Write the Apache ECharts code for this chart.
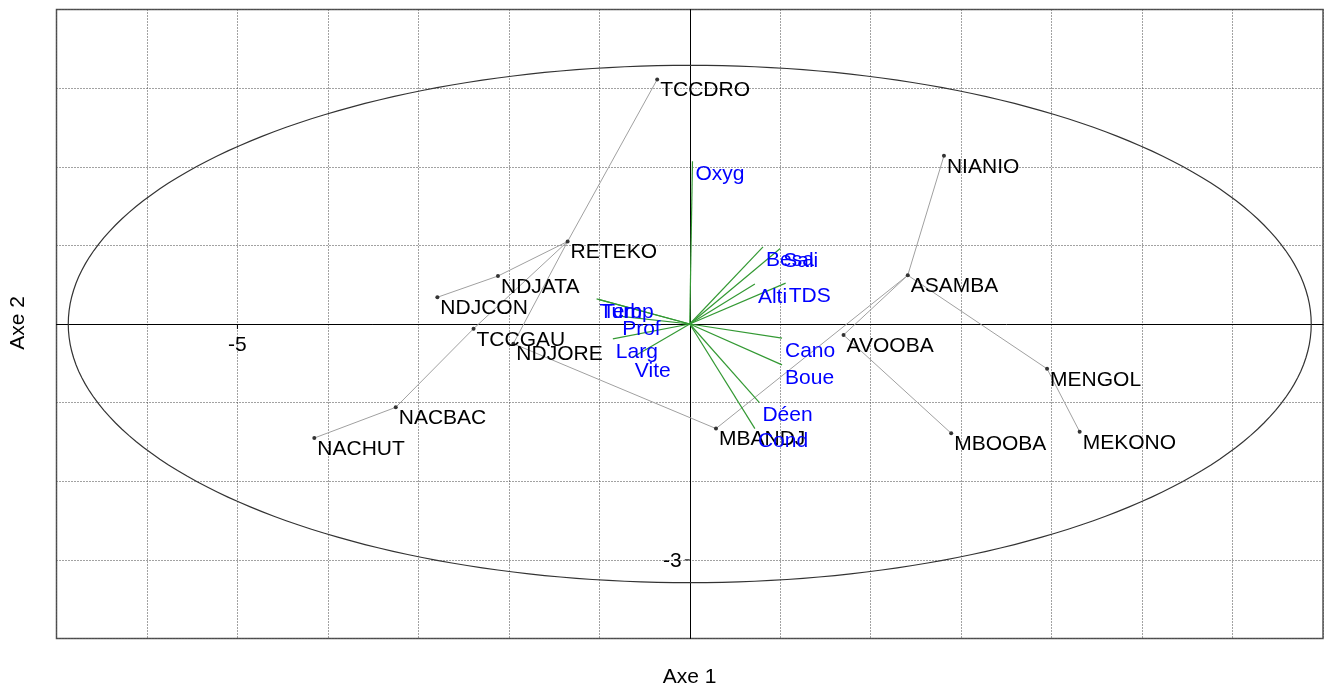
<!DOCTYPE html>
<html>
<head>
<meta charset="utf-8">
<script src="https://cdn.jsdelivr.net/npm/echarts@6.0.0/dist/echarts.min.js"></script>
<style>
  html, body { margin: 0; padding: 0; background: #fff; }
  #chart { width: 1326px; height: 688px; }
</style>
</head>
<body>
<div id="chart"></div>
<script>
// stations (Axe 1, Axe 2)
const stationNames = ["TCCDRO", "NIANIO", "RETEKO", "NDJATA", "NDJCON", "TCCGAU", "NDJORE", "NACBAC",
  "NACHUT", "MBANDJ", "ASAMBA", "AVOOBA", "MENGOL", "MEKONO", "MBOOBA"];
const stationX = [-0.36, 2.81, -1.35, -2.12, -2.79, -2.39, -1.95, -3.25, -4.15, 0.29, 2.41, 1.70, 3.95, 4.31, 2.89];
const stationY = [3.11, 2.14, 1.05, 0.61, 0.34, -0.06, -0.25, -1.06, -1.45, -1.33, 0.62, -0.14, -0.57, -1.37, -1.39];

// liens entre stations
const links = [
  ["TCCDRO", "RETEKO"], ["RETEKO", "NDJATA"], ["NDJATA", "NDJCON"], ["RETEKO", "TCCGAU"],
  ["TCCGAU", "NACBAC"], ["NACBAC", "NACHUT"], ["RETEKO", "NDJORE"], ["NDJORE", "MBANDJ"],
  ["MBANDJ", "ASAMBA"], ["ASAMBA", "NIANIO"], ["ASAMBA", "AVOOBA"], ["ASAMBA", "MENGOL"],
  ["MENGOL", "MEKONO"], ["AVOOBA", "MBOOBA"]
];

// variables (fleches)
const varNames = ["Oxyg", "Besa", "Sali", "Alti", "TDS", "Cano", "Boue", "Déen", "Cond", "Turb", "Temp", "Prof", "Larg", "Vite"];
const varX = [0.03, 0.81, 1.00, 0.72, 1.06, 1.02, 1.02, 0.77, 0.72, -1.03, -1.00, -0.78, -0.85, -0.64];
const varY = [2.07, 0.98, 0.96, 0.51, 0.52, -0.18, -0.52, -1.00, -1.33, 0.32, 0.31, 0.10, -0.19, -0.43];

// ellipse (centre x, centre y, demi-axe x, demi-axe y)
const ellipse = [0, 0, 6.87, 3.29];

// graduations
const xLabelTicks = [-5];
const yLabelTicks = [-3];

const FONT = "'Liberation Sans', Arial, sans-serif";
const FS = 21;

const chart = echarts.init(document.getElementById("chart"));

const idx = {};
stationNames.forEach((n, i) => { idx[n] = i; });
const linkData = links.map(([a, b]) => [stationX[idx[a]], stationY[idx[a]], stationX[idx[b]], stationY[idx[b]]]);
const stationData = stationNames.map((n, i) => ({ name: n, value: [stationX[i], stationY[i]] }));
const varData = varNames.map((n, i) => ({ name: n, value: [0, 0, varX[i], varY[i]] }));

const gridLine = { show: true, lineStyle: { color: "#444", type: [1, 2], width: 1 } };

const option = {
  animation: false,
  grid: {
    left: 56.5, right: 3, top: 9.5, bottom: 49.5,
    show: true, borderColor: "#555", borderWidth: 1.5,
    outerBoundsMode: "none"
  },
  xAxis: {
    type: "value", min: -7, max: 7, interval: 1,
    axisLine: { onZero: true, lineStyle: { color: "#000", width: 1 } },
    axisTick: { show: false },
    axisLabel: { show: false },
    splitLine: gridLine
  },
  yAxis: {
    type: "value", min: -4, max: 4, interval: 1,
    axisLine: { onZero: true, lineStyle: { color: "#000", width: 1 } },
    axisTick: { show: false },
    axisLabel: { show: false },
    splitLine: gridLine
  },
  graphic: [
    { type: "text", x: 689.7, y: 677, style: { text: "Axe 1", fill: "#000", fontSize: FS, fontFamily: FONT, align: "center", verticalAlign: "middle" } },
    { type: "text", x: 18, y: 323, rotation: Math.PI / 2, style: { text: "Axe 2", fill: "#000", fontSize: FS, fontFamily: FONT, align: "center", verticalAlign: "middle" } }
  ],
  series: [
    {
      // ellipse
      type: "custom", z: 1, silent: true,
      data: [ellipse],
      encode: { x: 0, y: 1 },
      renderItem(params, api) {
        const cx = api.value(0), cy = api.value(1), a = api.value(2), b = api.value(3);
        const pts = [];
        for (let k = 0; k <= 240; k++) {
          const t = (k / 240) * Math.PI * 2;
          pts.push(api.coord([cx + a * Math.cos(t), cy + b * Math.sin(t)]));
        }
        return { type: "polyline", shape: { points: pts }, style: { stroke: "#333", lineWidth: 1.2, fill: null } };
      }
    },
    {
      // graduation axe 1 (sur la ligne y = 0)
      type: "custom", z: 2, silent: true,
      data: xLabelTicks.map(v => [v, 0]),
      encode: { x: 0, y: 1 },
      renderItem(params, api) {
        const p = api.coord([api.value(0), 0]);
        return {
          type: "group",
          children: [
            { type: "line", shape: { x1: p[0], y1: p[1], x2: p[0], y2: p[1] + 5 }, style: { stroke: "#000", lineWidth: 1 } },
            { type: "text", style: { text: String(api.value(0)), x: p[0], y: p[1] + 21, fill: "#000", fontSize: FS, fontFamily: FONT, align: "center", verticalAlign: "middle" } }
          ]
        };
      }
    },
    {
      // graduation axe 2 (sur la ligne x = 0)
      type: "custom", z: 2, silent: true,
      data: yLabelTicks.map(v => [0, v]),
      encode: { x: 0, y: 1 },
      renderItem(params, api) {
        const p = api.coord([0, api.value(1)]);
        return {
          type: "group",
          children: [
            { type: "line", shape: { x1: p[0] - 5, y1: p[1], x2: p[0], y2: p[1] }, style: { stroke: "#000", lineWidth: 1 } },
            { type: "text", style: { text: String(api.value(1)), x: p[0] - 8, y: p[1] + 1, fill: "#000", fontSize: FS, fontFamily: FONT, align: "right", verticalAlign: "middle" } }
          ]
        };
      }
    },
    {
      // liens
      type: "custom", z: 2, silent: true,
      data: linkData,
      encode: { x: [0, 2], y: [1, 3] },
      renderItem(params, api) {
        const p1 = api.coord([api.value(0), api.value(1)]);
        const p2 = api.coord([api.value(2), api.value(3)]);
        return { type: "line", shape: { x1: p1[0], y1: p1[1], x2: p2[0], y2: p2[1] }, style: { stroke: "#a0a0a0", lineWidth: 1 } };
      }
    },
    {
      // stations
      type: "scatter", z: 3, silent: true,
      symbol: "circle", symbolSize: 4,
      itemStyle: { color: "#333", opacity: 1 },
      data: stationData,
      label: {
        show: true, position: [5, 13], align: "left", verticalAlign: "middle",
        formatter: "{b}", color: "#000", fontSize: FS, fontFamily: FONT
      }
    },
    {
      // fleches + etiquettes
      type: "custom", z: 4, silent: true,
      data: varData,
      encode: { x: [0, 2], y: [1, 3] },
      renderItem(params, api) {
        const p1 = api.coord([api.value(0), api.value(1)]);
        const p2 = api.coord([api.value(2), api.value(3)]);
        return {
          type: "group",
          children: [
            { type: "line", shape: { x1: p1[0], y1: p1[1], x2: p2[0], y2: p2[1] }, style: { stroke: "#339933", lineWidth: 1.2 } },
            { type: "text", z2: 10, style: { text: varNames[params.dataIndex], x: p2[0] + 3, y: p2[1] + 13, fill: "#0000ff", fontSize: FS, fontFamily: FONT, align: "left", verticalAlign: "middle" } }
          ]
        };
      }
    }
  ]
};

chart.setOption(option);
</script>
</body>
</html>
